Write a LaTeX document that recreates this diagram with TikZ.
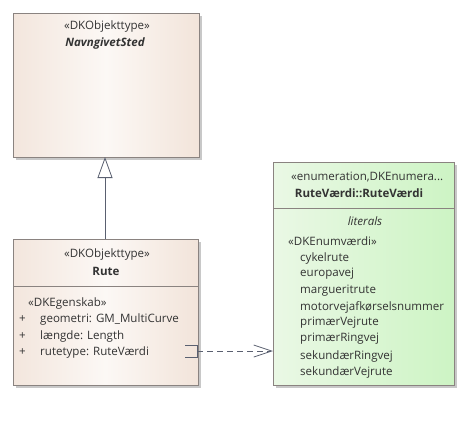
\documentclass[tikz,border=0pt]{standalone}
\usepackage{fontspec}
\setmainfont{Open Sans}
\usetikzlibrary{arrows.meta,shadows}
\definecolor{bordc}{HTML}{8A8380}
\definecolor{txtc}{HTML}{333333}
\definecolor{clsL}{HTML}{F3E6DD}
\definecolor{clsM}{HTML}{FCF8F5}
\definecolor{clsR}{HTML}{F2E4DA}
\definecolor{enL}{HTML}{EAF8E5}
\definecolor{enR}{HTML}{CDF4C4}
\definecolor{shd}{HTML}{C8C8C8}
\definecolor{linec}{HTML}{5A6070}
\newcommand{\fsz}{\fontsize{11.6}{13}\selectfont}
\tikzset{
  clsbox/.style={draw=bordc, line width=0.9bp, left color=clsL, right color=clsR, middle color=clsM, shading angle=90},
  enbox/.style={draw=bordc, line width=0.9bp, left color=enL, right color=enR},
  shadowbox/.style={fill=shd, draw=none},
  sepline/.style={draw=bordc, line width=0.9bp},
  lbl/.style={inner sep=0pt, text=txtc, font=\fsz},
  lblL/.style={lbl, anchor=west},
  conn/.style={draw=linec, line width=0.8bp},
}
\begin{document}
\begin{tikzpicture}[x=1bp,y=-1bp]
\useasboundingbox (0,0) rectangle (468,422);
% shadows
\fill[shadowbox] (16,16) rectangle (202,160);
\fill[shadowbox] (16,242) rectangle (201,388);
\fill[shadowbox] (276,165) rectangle (457,388);
% box NavngivetSted
\path[clsbox] (13,13) rectangle (199,157);
\node[lbl] (stA) at (107,26) {«DKObjekttype»};
\node[lbl, font=\fsz\bfseries\itshape] (nmA) at (105,43) {NavngivetSted};
\coordinate (Abot) at (105,157);
% box Rute
\path[clsbox] (13,239) rectangle (198,385);
\draw[sepline] (13,286) -- (198,286);
\node[lbl] (stR) at (107,254) {«DKObjekttype»};
\node[lbl, font=\fsz\bfseries] (nmR) at (106,271) {Rute};
\node[lblL] (stE) at (28,303) {«DKEgenskab»};
\node[lblL] (p1) at (19,319) {+};
\node[lblL] (p2) at (19,336) {+};
\node[lblL] (p3) at (19,352) {+};
\node[lblL] (a1) at (40,319) {geometri: GM\_MultiCurve};
\node[lblL] (a2) at (40,336) {længde: Length};
\node[lblL] (a3) at (40,352) {rutetype: RuteVærdi};
\coordinate (Rtop) at (105,239);
% enum box
\path[enbox] (273,162) rectangle (454,385);
\draw[sepline] (273,208) -- (454,208);
\node[lblL] (stV) at (291,177) {«enumeration,DKEnumera...};
\node[lbl, font=\fsz\bfseries] (nmV) at (359,193) {RuteVærdi::RuteVærdi};
\node[lbl, font=\fsz\itshape] (lit) at (365,221) {literals};
\node[lblL] (stL) at (288,241) {«DKEnumværdi»};
\node[lblL] (v1) at (300,258) {cykelrute};
\node[lblL] (v2) at (300,274) {europavej};
\node[lblL] (v3) at (300,291) {margueritrute};
\node[lblL] (v4) at (300,307) {motorvejafkørselsnummer};
\node[lblL] (v5) at (300,323) {primærVejrute};
\node[lblL] (v6) at (300,339) {primærRingvej};
\node[lblL] (v7) at (300,356) {sekundærRingvej};
\node[lblL] (v8) at (300,372) {sekundærVejrute};
% generalization
\draw[conn, -{Triangle[open, width=15bp, length=21bp, fill=white]}] (Rtop) -- (Abot);
% dependency
\coordinate (depS) at (197,351);
\coordinate (depE) at (273,351);
\draw[conn] (185,345) -- (197,345) -- (197,357) -- (185,357);
\draw[conn, dashed, dash pattern=on 6bp off 4bp, -{Straight Barb[length=18bp, width=12bp]}] (depS) -- (depE);
\end{tikzpicture}
\end{document}
